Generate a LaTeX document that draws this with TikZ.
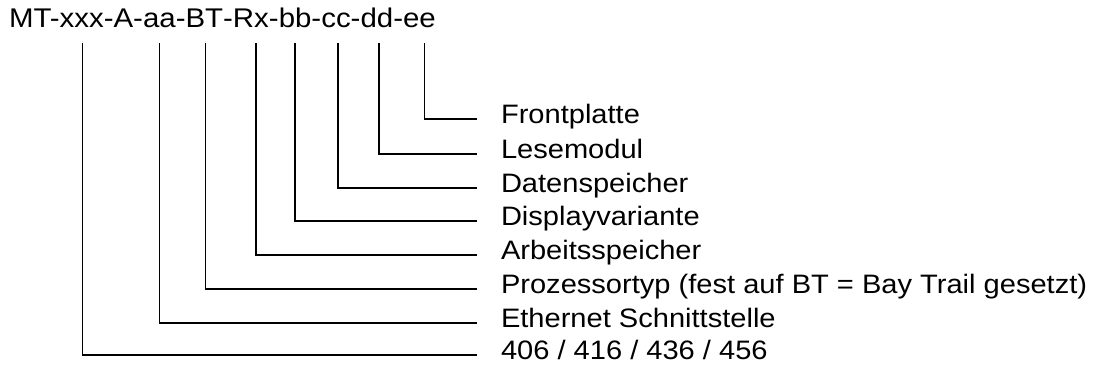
\documentclass[tikz,border=0pt]{standalone}
\usepackage{fontspec}
\setmainfont[FakeStretch=1.09]{Liberation Sans}
\usepackage{tikz}
\usetikzlibrary{positioning,calc}

\tikzset{
    code/.style={inner sep=0pt, outer sep=0pt, text depth=0pt, anchor=base west, font=\fontsize{20.25}{24}\selectfont},
    lbl/.style={inner sep=0pt, outer sep=0pt, text height=0.72em, text depth=0pt, anchor=west},
    lead/.style={line width=1pt, shorten <=12pt, shorten >=18pt}
}

\begin{document}
\begin{tikzpicture}[x=0.75pt, y=-0.75pt, font=\fontsize{20}{24}\selectfont]
    \useasboundingbox (0,0) rectangle (1104,371);

    % Type code
    \coordinate (c0) at (9,27);
    \foreach \txt/\nm [remember=\nm as \prev (initially c0)] in {MT-/c1, xxx/fxxx, -A-/c2, aa/faa, -/c3, BT/fbt, -/c4, Rx/frx, -/c5, bb/fbb, -/c6, cc/fcc, -/c7, dd/fdd, -/c8, ee/fee} {
        \node [code] (\nm) at (\prev.base east) {\txt};
    }

    % Labels and leads
    \foreach \y/\nm/\dx/\txt in {119/ee/5/Frontplatte, 154/dd/2/Lesemodul, 188/cc/2/Datenspeicher, 221/bb/0/Displayvariante, 255/rx/5/Arbeitsspeicher, 289/bt/1/{Prozessortyp (fest auf BT = Bay Trail gesetzt)}, 323/aa/0/Ethernet Schnittstelle, 355/xxx/1/{406 / 416 / 436 / 456}} {
        \node [lbl] (l\nm) at (501,\y) {\txt};
        \draw [lead] ($(f\nm.south)+(\dx,0)$) |- (l\nm.west);
    }
\end{tikzpicture}
\end{document}
